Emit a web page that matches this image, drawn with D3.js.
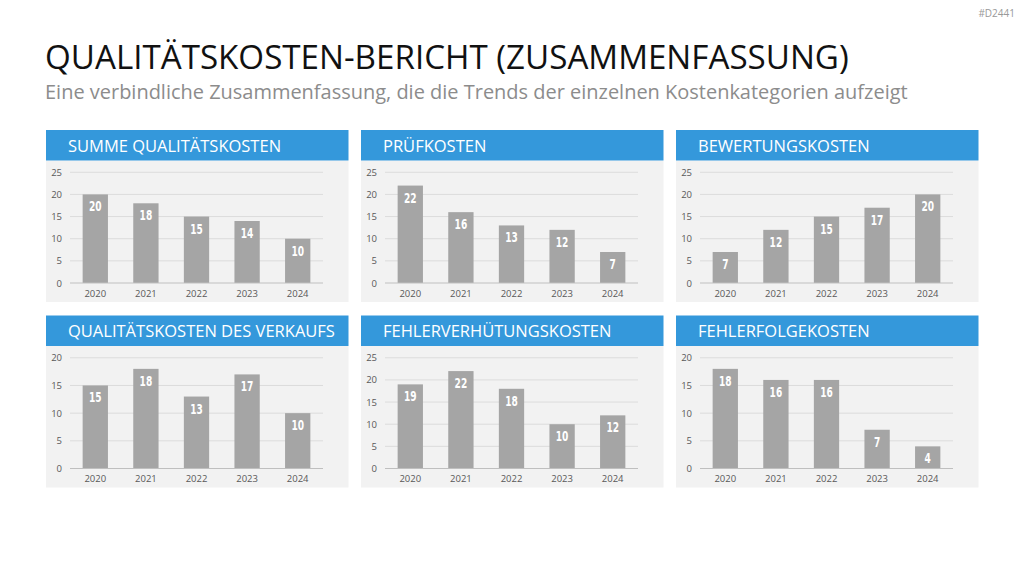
<!DOCTYPE html>
<html>
<head>
<meta charset="utf-8">
<script src="https://cdn.jsdelivr.net/npm/d3@7"></script>
<style>
  body { margin: 0; background: #fff; }
  svg { display: block; }
</style>
</head>
<body>
<svg id="chart" width="1024" height="576"></svg>
<script>
// data
const years = ["2020", "2021", "2022", "2023", "2024"];
const titles = [
  "SUMME QUALITÄTSKOSTEN", "PRÜFKOSTEN", "BEWERTUNGSKOSTEN",
  "QUALITÄTSKOSTEN DES VERKAUFS", "FEHLERVERHÜTUNGSKOSTEN", "FEHLERFOLGEKOSTEN"
];
const summe = [20, 18, 15, 14, 10];
const pruef = [22, 16, 13, 12, 7];
const bewertung = [7, 12, 15, 17, 20];
const verkauf = [15, 18, 13, 17, 10];
const verhuetung = [19, 22, 18, 10, 12];
const folge = [18, 16, 16, 7, 4];
const yMax = [25, 25, 25, 20, 25, 20];
const series = [summe, pruef, bewertung, verkauf, verhuetung, folge];

const svg = d3.select("#chart");
const font = "'Open Sans', 'Noto Sans', sans-serif";

//panel dimensions
const colX = [46, 361, 676];
const rowY = [130, 315.5];
const p_w = 302.5;
const h_h = 30.5;
const b_h = 141.5;

// shrink a text's font size until it spans the given width
const fitWidth = (sel, w) => {
  const size = parseFloat(sel.style("font-size"));
  const len = sel.node().getComputedTextLength();
  sel.style("font-size", `${size * w / len}px`);
};

// title + subtitle
const title = svg.append("text")
  .attr("x", 45).attr("y", 69)
  .style("font-family", font).style("font-size", "33px")
  .style("fill", "#111")
  .text("QUALITÄTSKOSTEN-BERICHT (ZUSAMMENFASSUNG)");
fitWidth(title, 804);
const sub = svg.append("text")
  .attr("x", 45).attr("y", 98.5)
  .style("font-family", font).style("font-size", "20px")
  .style("fill", "#8c8c8c")
  .text("Eine verbindliche Zusammenfassung, die die Trends der einzelnen Kostenkategorien aufzeigt");
fitWidth(sub, 863);
svg.append("text")
  .attr("x", 1015).attr("y", 17).attr("text-anchor", "end")
  .style("font-family", font).style("font-size", "10px")
  .style("fill", "#999")
  .text("#D2441");

for (let i = 0; i < 6; i++) {
  const x0 = colX[i % 3];
  const y0 = rowY[Math.floor(i / 3)];
  const g = svg.append("g").attr("transform", `translate(${x0},${y0})`);

  g.append("rect").attr("y", h_h).attr("width", p_w).attr("height", b_h).style("fill", "#f2f2f2");
  g.append("rect").attr("width", p_w).attr("height", h_h).style("fill", "#3498db");
  g.append("text")
    .attr("x", 22).attr("y", 21.5)
    .style("font-family", font).style("font-size", "16.5px")
    .style("fill", "#fff")
    .text(titles[i]);

  const x = d3.scaleBand().domain(years).range([24, 277]).paddingInner(0.5).paddingOuter(0.25);
  const y = d3.scaleLinear().domain([0, yMax[i]]).range([h_h + 122.5, h_h + 11.8]);

  // gridlines
  g.append("g").selectAll("line")
    .data(y.ticks(yMax[i] / 5).filter(d => d > 0))
    .join("line")
    .attr("x1", 24).attr("x2", 277)
    .attr("y1", d => y(d)).attr("y2", d => y(d))
    .style("stroke", "#dcdcdc").style("stroke-width", 1);

  // y labels
  g.append("g").selectAll("text")
    .data(y.ticks(yMax[i] / 5))
    .join("text")
    .attr("x", 16).attr("y", d => y(d) + 3.5)
    .attr("text-anchor", "end")
    .style("font-family", font).style("font-size", "9.5px")
    .style("fill", "#595959")
    .text(d => d);

  // bars
  g.append("g").selectAll("rect")
    .data(series[i])
    .join("rect")
    .attr("x", (d, j) => x(years[j]))
    .attr("y", d => y(d))
    .attr("width", x.bandwidth())
    .attr("height", d => y(0) - y(d))
    .style("fill", "#a5a5a5");

  // baseline
  g.append("line")
    .attr("x1", 24).attr("x2", 277)
    .attr("y1", y(0)).attr("y2", y(0))
    .style("stroke", "#bfbfbf").style("stroke-width", 1.2);

  // value labels (narrow, tall digits)
  g.append("g").selectAll("text")
    .data(series[i])
    .join("text")
    .attr("transform", (d, j) => `translate(${x(years[j]) + x.bandwidth() / 2},${y(d) + 17}) scale(0.72,1)`)
    .attr("text-anchor", "middle")
    .style("font-family", "'DejaVu Sans Condensed', 'Liberation Sans Narrow', sans-serif")
    .style("font-weight", "bold").style("font-size", "14px")
    .style("fill", "#fff")
    .text(d => d);

  // x labels
  g.append("g").selectAll("text")
    .data(years)
    .join("text")
    .attr("x", d => x(d) + x.bandwidth() / 2)
    .attr("y", y(0) + 13.5)
    .attr("text-anchor", "middle")
    .style("font-family", font).style("font-size", "9.5px")
    .style("fill", "#595959")
    .text(d => d);
}
</script>
</body>
</html>
